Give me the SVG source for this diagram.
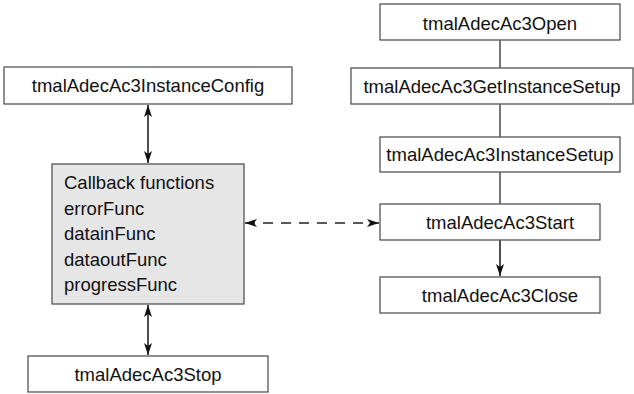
<svg xmlns="http://www.w3.org/2000/svg" width="634" height="394" viewBox="0 0 634 394">
<style>
.box{fill:#fff;stroke:#555;stroke-width:1.3}
.cb{fill:#e6e6e6;stroke:#555;stroke-width:1.3}
.t{font-family:"Liberation Sans",Arial,sans-serif;font-size:18.5px;fill:#111}
.c{text-anchor:middle}
.ln{stroke:#222;stroke-width:1.6;fill:none}
.pl{stroke:#555;stroke-width:1.6;fill:none}
</style>
<defs>
<marker id="ah" viewBox="0 0 12 8" refX="12" refY="4" markerWidth="12" markerHeight="8" markerUnits="userSpaceOnUse" orient="auto-start-reverse">
<path d="M0,0 L12,4 L0,8 L3,4 Z" fill="#111"/>
</marker>
</defs>
<g id="connectors">
<line class="ln" x1="148" y1="105" x2="148" y2="163" marker-start="url(#ah)" marker-end="url(#ah)"/>
<line class="ln" x1="148" y1="305" x2="148" y2="355" marker-start="url(#ah)" marker-end="url(#ah)"/>
<line class="ln" x1="245" y1="223" x2="379" y2="223" stroke-dasharray="10,8" marker-start="url(#ah)" marker-end="url(#ah)"/>
<line class="pl" x1="500" y1="40" x2="500" y2="68"/>
<line class="pl" x1="500" y1="104" x2="500" y2="137"/>
<line class="pl" x1="500" y1="172" x2="500" y2="204"/>
<line class="ln" x1="500" y1="240" x2="500" y2="276" marker-end="url(#ah)"/>
</g>
<g id="instanceConfig">
<rect class="box" x="4" y="67" width="288" height="37"/>
<text class="t c" x="148" y="92">tmalAdecAc3InstanceConfig</text>
</g>
<g id="callbacks">
<rect class="cb" x="52" y="164" width="192" height="140"/>
<text class="t" x="64" y="189">Callback functions</text>
<text class="t" x="64" y="214.5">errorFunc</text>
<text class="t" x="64" y="240">datainFunc</text>
<text class="t" x="64" y="265.5">dataoutFunc</text>
<text class="t" x="64" y="291">progressFunc</text>
</g>
<g id="stop">
<rect class="box" x="28" y="356" width="240" height="36"/>
<text class="t c" x="148" y="381">tmalAdecAc3Stop</text>
</g>
<g id="open">
<rect class="box" x="380" y="4" width="240" height="36"/>
<text class="t c" x="500" y="30">tmalAdecAc3Open</text>
</g>
<g id="getInstanceSetup">
<rect class="box" x="351" y="68" width="282" height="36"/>
<text class="t c" x="492" y="93">tmalAdecAc3GetInstanceSetup</text>
</g>
<g id="instanceSetup">
<rect class="box" x="380" y="137" width="240" height="35"/>
<text class="t c" x="500" y="161">tmalAdecAc3InstanceSetup</text>
</g>
<g id="start">
<rect class="box" x="380" y="204" width="220" height="36"/>
<text class="t c" x="500" y="229">tmalAdecAc3Start</text>
</g>
<g id="close">
<rect class="box" x="380" y="277" width="220" height="36"/>
<text class="t c" x="500" y="302">tmalAdecAc3Close</text>
</g>
</svg>
